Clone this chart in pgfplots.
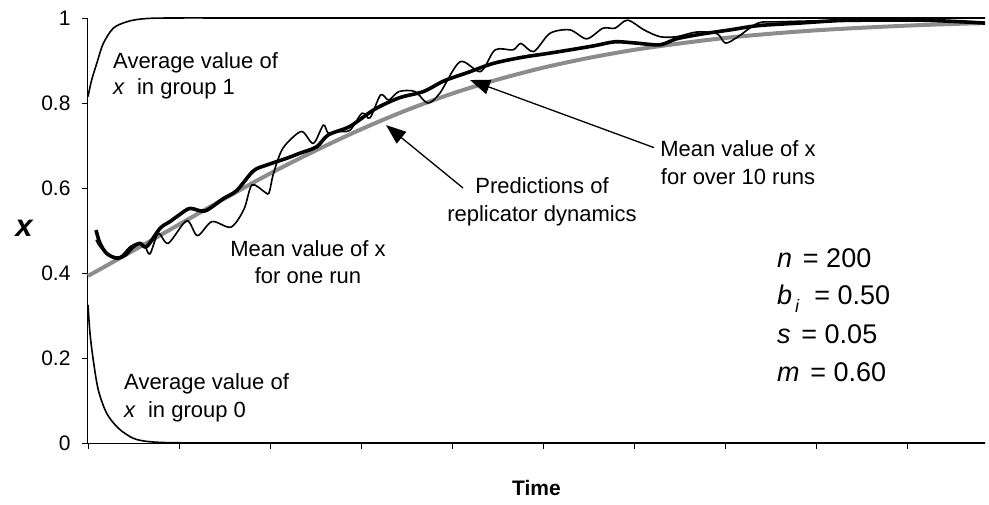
\documentclass[border=0pt]{standalone}
\usepackage{pgfplots}
\pgfplotsset{compat=1.18}
\usepackage{fontspec}
\setmainfont{Liberation Sans}
\usetikzlibrary{arrows.meta}
\definecolor{gline}{RGB}{140,140,140}
\newcommand{\annot}{\fontsize{22}{26}\selectfont}
\newcommand{\param}{\fontsize{27}{32}\selectfont}
\begin{document}
\begin{tikzpicture}
\useasboundingbox (-88pt,-61pt) rectangle (901pt,443pt);
\begin{axis}[
  at={(0pt,0pt)}, anchor=south west,
  scale only axis, width=897pt, height=425pt,
  xmin=0, xmax=9.857, ymin=0, ymax=1,
  axis x line=bottom, axis y line=left,
  axis line style={-, line width=1pt, black},
  xtick={0,1,...,9}, xticklabels={},
  ytick={0,0.2,0.4,0.6,0.8,1}, yticklabels={0,0.2,0.4,0.6,0.8,1},
  tick align=outside, major tick length=6pt,
  tick style={black, line width=0.8pt},
  yticklabel style={font=\fontsize{21}{21}\selectfont, xshift=-8pt},
  clip=false,
]
% prediction of replicator dynamics (grey)
\addplot[gline, line width=4pt, smooth] coordinates {
(0,0.393) (0.5,0.453) (1,0.514) (1.5,0.575) (2,0.634) (2.5,0.688) (3,0.738)
(3.5,0.783) (4,0.822) (4.5,0.855) (5,0.883) (5.5,0.906) (6,0.925) (6.5,0.940)
(7,0.953) (7.5,0.963) (8,0.971) (8.5,0.977) (9,0.982) (9.5,0.986) (9.857,0.988)};
% mean over 10 runs (thick)
\addplot[black, line width=3.6pt, smooth, line join=round] coordinates {
(0.088,0.501) (0.132,0.47) (0.205,0.446) (0.315,0.435) (0.407,0.442) (0.498,0.462)
(0.571,0.47) (0.645,0.462) (0.791,0.505) (0.901,0.521) (1.011,0.538) (1.121,0.552)
(1.286,0.546) (1.487,0.575) (1.634,0.594) (1.816,0.64) (1.964,0.654) (2.184,0.67)
(2.330,0.682) (2.513,0.697) (2.641,0.725) (2.879,0.745) (3.148,0.785) (3.418,0.812)
(3.687,0.827) (3.912,0.852) (4.176,0.872) (4.451,0.893) (4.758,0.907) (5.033,0.916)
(5.297,0.925) (5.571,0.935) (5.791,0.944) (6.022,0.941) (6.286,0.937) (6.467,0.951)
(6.736,0.962) (7.055,0.972) (7.363,0.982) (7.813,0.988) (8.264,0.994) (8.710,0.995)
(9.154,0.995) (9.604,0.991) (9.857,0.988)};
% one run (thin)
\addplot[black, line width=1.6pt, smooth] coordinates {
(0.088,0.478) (0.132,0.462) (0.242,0.442) (0.352,0.438) (0.462,0.462) (0.553,0.47)
(0.626,0.462) (0.681,0.445) (0.773,0.493) (0.882,0.47) (1.085,0.523) (1.203,0.488)
(1.363,0.521) (1.571,0.508) (1.714,0.55) (1.802,0.607) (1.945,0.59) (1.989,0.588)
(2.033,0.63) (2.11,0.68) (2.184,0.705) (2.348,0.733) (2.476,0.705) (2.586,0.748)
(2.641,0.729) (2.747,0.733) (2.879,0.736) (3.011,0.776) (3.099,0.765) (3.215,0.819)
(3.305,0.807) (3.418,0.827) (3.593,0.827) (3.732,0.8) (3.866,0.823) (4.088,0.897)
(4.314,0.874) (4.473,0.925) (4.670,0.925) (4.758,0.94) (4.898,0.921) (5.077,0.964)
(5.297,0.972) (5.480,0.951) (5.659,0.976) (5.791,0.976) (5.929,0.995) (6.110,0.972)
(6.286,0.956) (6.467,0.956) (6.692,0.967) (6.912,0.963) (7.005,0.941) (7.143,0.956)
(7.363,0.988) (7.589,0.991) (8.154,0.994) (8.923,0.996) (9.582,0.992) (9.857,0.988)};
% group 1
\addplot[black, line width=1.6pt, smooth] coordinates {
(0,0.815) (0.04,0.854) (0.096,0.893) (0.168,0.94) (0.278,0.976) (0.425,0.991)
(0.6,0.998) (0.9,1.0) (2,1.0) (5,1.0) (9.857,1.0)};
% group 0
\addplot[black, line width=1.6pt, smooth] coordinates {
(0,0.325) (0.022,0.258) (0.058,0.195) (0.113,0.125) (0.205,0.07) (0.333,0.035)
(0.498,0.011) (0.68,0.003) (1.0,0.0005) (2,0) (5,0) (9.857,0)};
% annotations
\node[anchor=base west, font=\annot, inner sep=0pt] at (axis cs:0.275,0.882) {Average value of};
\node[anchor=base west, font=\annot, inner sep=0pt] at (axis cs:0.275,0.819) {\textit{x}~ in group 1};
\node[anchor=base west, font=\annot, inner sep=0pt] at (axis cs:0.396,0.125) {Average value of};
\node[anchor=base west, font=\annot, inner sep=0pt] at (axis cs:0.396,0.061) {\textit{x}~ in group 0};
\node[anchor=base, font=\annot, inner sep=0pt] at (axis cs:2.418,0.438) {Mean value of x};
\node[anchor=base, font=\annot, inner sep=0pt] at (axis cs:2.418,0.376) {for one run};
\node[anchor=base, font=\annot, inner sep=0pt] at (axis cs:4.989,0.586) {Predictions of};
\node[anchor=base, font=\annot, inner sep=0pt] at (axis cs:4.989,0.522) {replicator dynamics};
\node[anchor=base, font=\annot, inner sep=0pt] at (axis cs:7.143,0.673) {Mean value of x};
\node[anchor=base, font=\annot, inner sep=0pt] at (axis cs:7.143,0.609) {for over 10 runs};
\draw[line width=1.3pt, -{Triangle[length=20pt,width=15pt]}] (axis cs:4.121,0.6) -- (axis cs:3.275,0.748);
\draw[line width=1.3pt, -{Triangle[length=20pt,width=15pt]}] (axis cs:6.22,0.695) -- (axis cs:4.198,0.854);
% parameters
\node[anchor=base west, font=\param, inner sep=0pt] at (axis cs:7.571,0.412) {\textit{n}\hspace{0.4em}= 200};
\node[anchor=base west, font=\param, inner sep=0pt] at (axis cs:7.571,0.325) {\textit{b}\raisebox{-0.3em}{\fontsize{18}{18}\selectfont\,\textit{i}}\hspace{0.55em}= 0.50};
\node[anchor=base west, font=\param, inner sep=0pt] at (axis cs:7.571,0.235) {\textit{s}\hspace{0.4em}= 0.05};
\node[anchor=base west, font=\param, inner sep=0pt] at (axis cs:7.571,0.144) {\textit{m}\hspace{0.4em}= 0.60};
% axis labels
\node[anchor=center, font=\bfseries\itshape\fontsize{31}{31}\selectfont] at (rel axis cs:0,0.504) [xshift=-64pt] {x};
\node[anchor=base, font=\bfseries\fontsize{21}{21}\selectfont] at (rel axis cs:0.5,0) [yshift=-52pt] {Time};
\end{axis}
\end{tikzpicture}
\end{document}
